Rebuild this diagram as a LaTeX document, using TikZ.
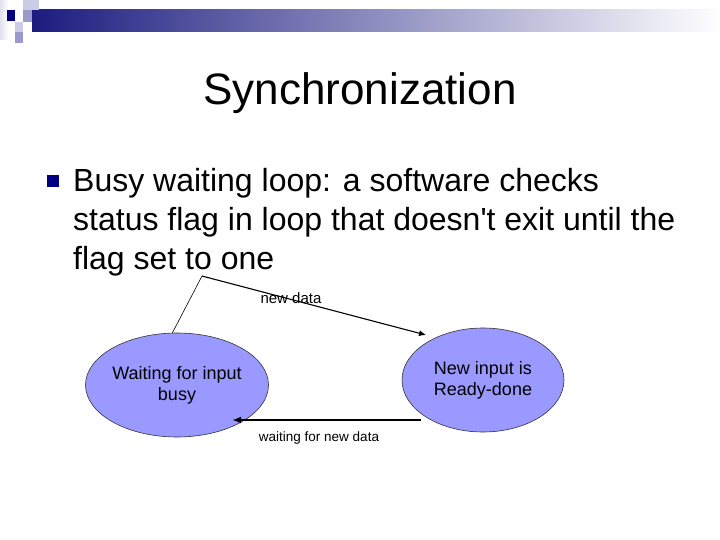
\documentclass[tikz,border=0pt]{standalone}
\usepackage{fontspec}
\setmainfont{Liberation Sans}
\usetikzlibrary{arrows.meta,shapes.geometric}
\definecolor{navy}{RGB}{0,0,128}
\definecolor{barnavy}{RGB}{28,28,128}
\definecolor{barmid}{RGB}{200,200,214}
\definecolor{sqlight}{RGB}{204,204,230}
\definecolor{sqmid}{RGB}{153,153,204}
\definecolor{statefill}{RGB}{153,153,255}
\tikzset{
  state/.style={ellipse,draw=black!80,line width=0.6pt,fill=statefill,minimum width=162pt,minimum height=104pt,inner sep=0pt,align=center,font=\fontsize{18}{21}\selectfont},
  bodytext/.style={anchor=base west,inner sep=0pt,font=\fontsize{32}{38}\selectfont},
  edgelabel/.style={anchor=base,inner sep=0pt},
  thinline/.style={line width=0.6pt},
  arrowline/.style={line width=1.1pt,-{Latex[length=7pt,width=6pt]}},
  boldarrow/.style={line width=2pt,-{Latex[length=9pt,width=7pt]}}
}
\begin{document}
\begin{tikzpicture}[x=1pt,y=-1pt]
\useasboundingbox (0,0) rectangle (720,540);
\fill[white] (0,0) rectangle (720,540);
% header decoration
\shade[left color=sqlight!60,right color=white] (0,0) rectangle (8,40);
\shade[left color=barnavy,middle color=barmid,right color=white] (32,10) rectangle (720,32);
\fill[sqlight] (23,0) rectangle (39,10);
\fill[sqmid] (23,10) rectangle (32,22);
\fill[navy] (7,10) rectangle (15,21);
\fill[sqlight] (15,22) rectangle (23,32);
\fill[sqmid] (15,32) rectangle (23,43);
% title
\node[anchor=base,inner sep=0pt,font=\fontsize{44}{50}\selectfont] (title) at (360,105) {Synchronization};
% bullet
\fill[navy] (47,175) rectangle (59,187);
\node[bodytext] (l1) at (73,192) {Busy waiting loop: a software checks};
\node[bodytext] (l2) at (73,230) {status flag in loop that doesn\textquotesingle t exit until the};
\node[bodytext] (l3) at (73,269) {flag set to one};
% states
\node[state] (wait) at (177,385) {Waiting for input\\busy};
\node[state] (ready) at (483,380) {New input is\\Ready-done};
% connectors
\coordinate (corner) at (202,276);
\coordinate (tipA) at (426,335);
\coordinate (startB) at (421,420);
\coordinate (tipB) at (232,420);
\draw[thinline] (wait.95) -- (corner);
\draw[arrowline] (corner) -- (tipA);
\draw[boldarrow] (startB) -- (tipB);
% labels
\node[edgelabel,font=\fontsize{15}{17}\selectfont] (lblA) at (291,303) {new data};
\node[edgelabel,font=\fontsize{13.5}{16}\selectfont] (lblB) at (319,441) {waiting for new data};
\end{tikzpicture}
\end{document}
